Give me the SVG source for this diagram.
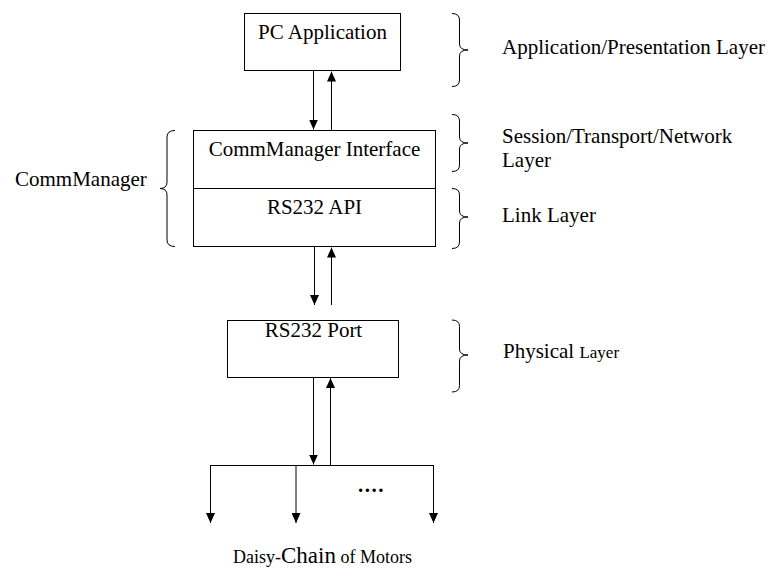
<svg xmlns="http://www.w3.org/2000/svg" width="774" height="570" viewBox="0 0 774 570">
<defs>
<marker id="ah" markerWidth="10" markerHeight="9" refX="10" refY="4.5" orient="auto" markerUnits="userSpaceOnUse">
<path d="M0,0 L10,4.5 L0,9 z" fill="#000"/>
</marker>
<style>
.box{fill:#fff;stroke:#000;stroke-width:1}
.t{font-family:"Liberation Serif","Times New Roman",serif;font-size:21px;fill:#000}
.c{text-anchor:middle}
.sm{font-size:17px}
.ln{stroke:#000;stroke-width:1;fill:none}
.ar{stroke:#000;stroke-width:1;fill:none;marker-end:url(#ah)}
.br{stroke:#000;stroke-width:1;fill:none}
</style>
</defs>
<rect width="774" height="570" fill="#fff"/>

<g id="pc-application">
<rect class="box" x="244.5" y="13.5" width="156" height="57"/>
<text class="t c" x="322.5" y="39">PC Application</text>
</g>

<g id="commmanager">
<rect class="box" x="193.5" y="130.5" width="242" height="116"/>
<line class="ln" x1="193.5" y1="188.5" x2="435.5" y2="188.5"/>
<text class="t c" x="314.5" y="156">CommManager Interface</text>
<text class="t c" x="314.5" y="214">RS232 API</text>
</g>

<g id="rs232-port">
<rect class="box" x="227.5" y="320.5" width="171" height="57"/>
<text class="t c" x="313.5" y="337">RS232 Port</text>
</g>

<g id="commmanager-label">
<path class="br" d="M175,130.5 Q167,130.5 167,137 L167,182 Q167,188.5 160,188.5 Q167,188.5 167,195 L167,240 Q167,246.5 175,246.5"/>
<text class="t" x="15" y="186">CommManager</text>
</g>

<g id="layer-application">
<path class="br" d="M452,13.5 Q459.5,13.5 459.5,20 L459.5,44 Q459.5,50 468,50 Q459.5,50 459.5,56 L459.5,80 Q459.5,86.5 452,86.5"/>
<text class="t" x="502" y="54">Application/Presentation Layer</text>
</g>

<g id="layer-session">
<path class="br" d="M452,114.5 Q459.5,114.5 459.5,121 L459.5,137 Q459.5,143 468,143 Q459.5,143 459.5,149 L459.5,165 Q459.5,171.5 452,171.5"/>
<text class="t" x="502" y="143">Session/Transport/Network</text>
<text class="t" x="502" y="167">Layer</text>
</g>

<g id="layer-link">
<path class="br" d="M452,188.5 Q459.5,188.5 459.5,195 L459.5,211 Q459.5,217 468,217 Q459.5,217 459.5,223 L459.5,242 Q459.5,248.5 452,248.5"/>
<text class="t" x="502" y="222">Link Layer</text>
</g>

<g id="layer-physical">
<path class="br" d="M452,320 Q459.5,320 459.5,326.5 L459.5,349 Q459.5,355 468,355 Q459.5,355 459.5,361 L459.5,385.5 Q459.5,392 452,392"/>
<text class="t" x="503" y="358">Physical <tspan class="sm">Layer</tspan></text>
</g>

<g id="motors-label">
<text class="t" x="233" y="563" font-size="18"><tspan font-size="18">Daisy-</tspan><tspan font-size="23">Chain</tspan><tspan font-size="18"> of Motors</tspan></text>
<text class="t" x="358" y="492" font-weight="bold" letter-spacing="1.5">....</text>
</g>

<g id="connectors">
<line class="ar" x1="313.5" y1="71" x2="313.5" y2="129.5"/>
<line class="ar" x1="331.5" y1="130" x2="331.5" y2="71.5"/>
<line class="ar" x1="314.5" y1="247" x2="314.5" y2="305"/>
<line class="ar" x1="331.5" y1="305" x2="331.5" y2="247.5"/>
<line class="ar" x1="313.5" y1="378" x2="313.5" y2="464.5"/>
<line class="ar" x1="330.5" y1="465" x2="330.5" y2="378"/>
<line class="ln" x1="210.5" y1="465.5" x2="433.5" y2="465.5"/>
<line class="ar" x1="210.5" y1="465" x2="210.5" y2="523"/>
<line class="ar" x1="296" y1="465" x2="296" y2="523"/>
<line class="ar" x1="433.5" y1="465" x2="433.5" y2="523"/>
</g>
</svg>
